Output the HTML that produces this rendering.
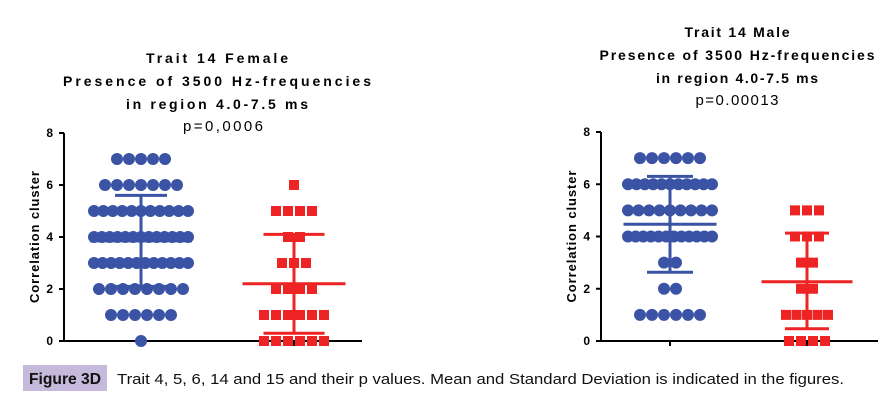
<!DOCTYPE html>
<html><head><meta charset="utf-8"><style>
html,body{margin:0;padding:0;background:#fff;}
svg{display:block;font-family:"Liberation Sans",Arial,sans-serif;}
</style></head><body>
<svg id="fig" width="883" height="401" viewBox="0 0 883 401">
  <g font-weight="bold" font-size="14" fill="#000" text-anchor="middle">
    <text x="217" y="63" textLength="142" lengthAdjust="spacing">Trait 14 Female</text>
    <text x="217" y="86" textLength="308" lengthAdjust="spacing">Presence of 3500 Hz-frequencies</text>
    <text x="217" y="109" textLength="182" lengthAdjust="spacing">in region 4.0-7.5 ms</text>
    <text x="223" y="131" font-weight="normal" font-size="15" textLength="80" lengthAdjust="spacing">p=0,0006</text>
  </g>
  <g font-weight="bold" font-size="14" fill="#000" text-anchor="middle">
    <text x="737" y="37" textLength="105" lengthAdjust="spacing">Trait 14 Male</text>
    <text x="737" y="60" textLength="275" lengthAdjust="spacing">Presence of 3500 Hz-frequencies</text>
    <text x="737" y="83" textLength="162" lengthAdjust="spacing">in region 4.0-7.5 ms</text>
    <text x="737" y="105" font-weight="normal" font-size="15" textLength="83" lengthAdjust="spacing">p=0.00013</text>
  </g>
  <g id="left"></g>
  <g id="right"></g>
  <rect x="23" y="365" width="84" height="26" fill="#c5b9dc"/>
  <text x="29" y="384" font-size="16" font-weight="bold" fill="#111" textLength="72" lengthAdjust="spacingAndGlyphs">Figure 3D</text>
  <text x="117" y="384" font-size="15" fill="#111" textLength="727" lengthAdjust="spacingAndGlyphs">Trait 4, 5, 6, 14 and 15 and their p values. Mean and Standard Deviation is indicated in the figures.</text>
</svg>
<script>
const levels = [0,1,2,3,4,5,6,7];
const yTicks = [0,2,4,6,8];
const femaleBlueCounts = [1,6,8,12,13,11,7,5];
const femaleRedCounts  = [6,6,4,3,2,4,1,0];
const maleBlueCounts   = [0,6,2,2,12,9,11,6];
const maleRedCounts    = [4,5,2,2,3,3,0,0];
const femaleBlueStats = [3.85, 5.6, 2.1];
const femaleRedStats  = [2.2, 4.1, 0.3];
const maleBlueStats   = [4.47, 6.3, 2.63];
const maleRedStats    = [2.27, 4.13, 0.47];

const NS = "http://www.w3.org/2000/svg";
function mk(parent, tag, attrs){ const e=document.createElementNS(NS,tag); for(const k in attrs) e.setAttribute(k,attrs[k]); parent.appendChild(e); return e; }

function drawChart(g, cfg){
  const y = v => cfg.y0 - v*(cfg.y0-cfg.y8)/8;
  const ax = mk(g,'line',{x1:cfg.ax,y1:cfg.y8,x2:cfg.ax,y2:cfg.y0+1,stroke:'#000','stroke-width':2});
  
  
  const xa = mk(g,'line',{x1:cfg.ax-1,y1:cfg.y0,x2:cfg.xEnd,y2:cfg.y0,stroke:'#000','stroke-width':2});
  
  
  yTicks.forEach(t=>{
    const tk = mk(g,'line',{x1:cfg.ax-5,y1:y(t),x2:cfg.ax,y2:y(t),stroke:'#000','stroke-width':2});
    
    
    const tl = mk(g,'text',{x:cfg.ax-11,y:y(t)+4,'font-size':12,'font-weight':'bold','text-anchor':'end',fill:'#000'});
    tl.textContent = t;
    
    
  });
  [cfg.bx,cfg.rx].forEach(cx=>{
    const xt = mk(g,'line',{x1:cx,y1:cfg.y0,x2:cx,y2:cfg.y0+5,stroke:'#000','stroke-width':2});
    
    
  });
  const yl = mk(g,'text',{x:0,y:0,transform:`translate(${cfg.ax-25},${(cfg.y0+cfg.y8)/2}) rotate(-90)`,'font-size':13,'font-weight':'bold','text-anchor':'middle',fill:'#000',textLength:132,lengthAdjust:'spacing'});
  yl.textContent='Correlation cluster';
  
  

  function points(counts, cx, maxW, isSq, color, name){
    levels.forEach((lv,i)=>{
      const n = counts[i]; if(!n) return;
      const sp = n>1 ? Math.min(12, maxW/(n-1)) : 0;
      for(let k=0;k<n;k++){
        const px = cx + (k-(n-1)/2)*sp;
        let e;
        if(isSq) e = mk(g,'rect',{x:px-5,y:y(lv)-5,width:10,height:10,fill:color});
        else e = mk(g,'circle',{cx:px,cy:y(lv),r:6,fill:color});
        
        
      }
    });
  }
  function errbar(stats, cx, mw, cw, color, name){
    const [m,hi,lo]=stats;
    const parts=[[cx,y(hi),cx,y(lo)],[cx-mw/2,y(m),cx+mw/2,y(m)],[cx-cw/2,y(hi),cx+cw/2,y(hi)],[cx-cw/2,y(lo),cx+cw/2,y(lo)]];
    parts.forEach(p=>{
      const l = mk(g,'line',{x1:p[0],y1:p[1],x2:p[2],y2:p[3],stroke:color,'stroke-width':3});
      
      
    });
  }
  points(cfg.bc, cfg.bx, cfg.bw, false, '#3a53a4', 'blue-point');
  points(cfg.rc, cfg.rx, cfg.rw, true, '#ee2424', 'red-point');
  errbar(cfg.bs, cfg.bx, cfg.bmw, cfg.bcw, '#3a53a4', 'blue-mean-sd');
  errbar(cfg.rs, cfg.rx, cfg.rmw, cfg.rcw, '#ee2424', 'red-mean-sd');
}
drawChart(document.getElementById('left'),{ax:64,y0:341,y8:133,xEnd:362,bx:141,rx:294,
  bc:femaleBlueCounts,rc:femaleRedCounts,bs:femaleBlueStats,rs:femaleRedStats,
  bw:94,rw:62,bmw:102,bcw:52,rmw:103,rcw:61});
drawChart(document.getElementById('right'),{ax:601,y0:341,y8:132,xEnd:878,bx:670,rx:807,
  bc:maleBlueCounts,rc:maleRedCounts,bs:maleBlueStats,rs:maleRedStats,
  bw:84,rw:42,bmw:93,bcw:46,rmw:91,rcw:44});
</script>
</body></html>
